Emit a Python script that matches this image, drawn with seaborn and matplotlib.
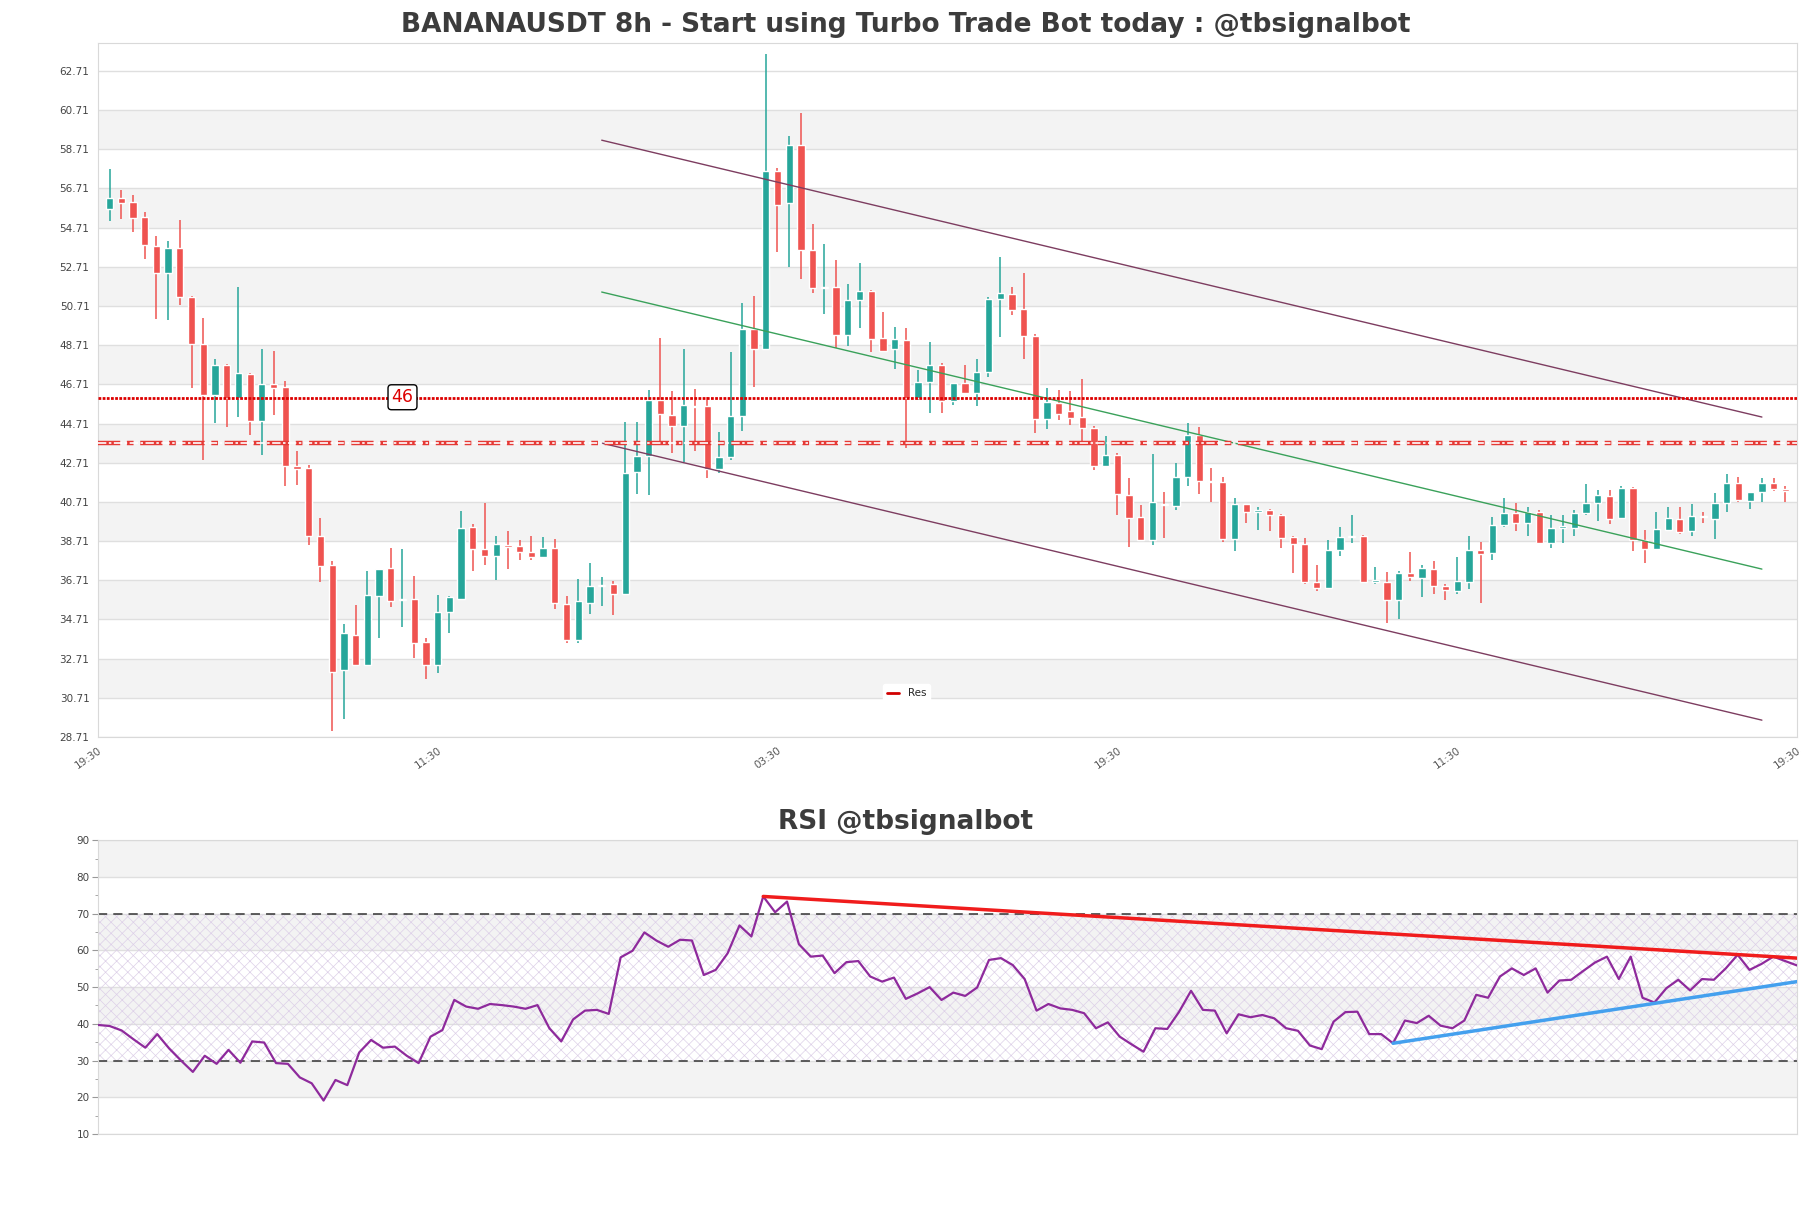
import numpy as np
import pandas as pd
import seaborn as sns
import matplotlib.pyplot as plt
from matplotlib.lines import Line2D

sns.set_style("white")
plt.rcParams['font.family'] = ['DejaVu Sans']
plt.rcParams['hatch.linewidth'] = 0.5

# 8h candles
opens = [55.68, 56.20, 56.03, 55.25, 53.77, 52.40, 53.68, 51.15, 48.75, 46.18,
         47.70, 46.02, 47.25, 44.85, 46.72, 46.56, 42.53, 42.46, 38.95, 37.51,
         32.11, 33.93, 32.38, 35.91, 37.33, 35.70, 35.75, 33.56, 32.38, 35.07,
         35.76, 39.45, 38.31, 37.97, 38.49, 38.44, 38.13, 37.92, 38.36, 35.50,
         33.68, 35.57, 36.42, 36.53, 36.03, 42.23, 43.05, 45.92, 45.15, 44.58,
         45.60, 45.61, 42.37, 42.98, 45.10, 49.53, 48.52, 57.62, 55.94, 58.90,
         53.59, 51.63, 51.69, 49.25, 51.01, 51.49, 49.07, 48.50, 48.98, 46.02,
         46.81, 47.72, 45.88, 46.79, 46.29, 47.32, 51.08, 51.31, 50.55, 49.19,
         44.92, 45.77, 45.33, 45.04, 44.47, 42.53, 43.10, 41.05, 39.95, 38.77,
         40.62, 40.52, 42.00, 44.12, 41.75, 41.73, 38.83, 40.59, 40.18, 40.30,
         40.06, 38.92, 38.54, 36.60, 36.30, 38.24, 38.90, 38.99, 36.64, 36.64,
         35.69, 37.06, 36.83, 37.28, 36.44, 36.14, 36.64, 38.24, 38.08, 39.52,
         40.13, 39.61, 40.20, 38.60, 39.40, 39.38, 40.13, 40.63, 41.00, 39.90,
         41.43, 38.77, 38.31, 39.29, 39.86, 39.22, 39.97, 39.86, 40.63, 41.66,
         40.77, 41.20, 41.66, 41.39]
highs = [57.69, 56.62, 56.35, 55.53, 54.27, 54.04, 55.12, 51.20, 50.10, 48.00,
         47.74, 51.69, 47.30, 48.50, 48.39, 46.86, 43.33, 42.60, 39.90, 37.67,
         34.48, 35.46, 37.17, 37.30, 38.38, 38.31, 36.94, 33.75, 35.96, 35.90,
         40.25, 39.56, 40.66, 38.99, 39.22, 38.77, 38.99, 38.93, 38.81, 35.91,
         36.78, 37.58, 36.87, 36.67, 44.81, 44.81, 46.40, 49.07, 46.36, 48.50,
         46.45, 46.06, 44.28, 48.34, 50.85, 51.24, 63.55, 57.76, 59.40, 60.54,
         54.89, 53.88, 53.06, 51.81, 52.90, 51.52, 50.40, 49.66, 49.60, 47.43,
         48.87, 47.79, 46.79, 47.72, 48.00, 51.19, 53.20, 51.69, 52.40, 49.26,
         46.52, 46.40, 46.36, 46.97, 44.58, 44.05, 43.21, 41.91, 40.54, 43.14,
         41.23, 42.69, 44.76, 44.51, 42.46, 41.96, 40.93, 40.60, 40.47, 40.36,
         40.08, 38.98, 38.88, 37.51, 38.77, 39.45, 40.02, 39.00, 37.40, 37.12,
         37.17, 38.13, 37.51, 37.69, 36.53, 37.90, 38.98, 38.65, 39.95, 40.93,
         40.63, 40.47, 40.29, 40.06, 40.06, 40.29, 41.61, 41.32, 41.32, 41.50,
         41.45, 39.29, 40.20, 40.47, 40.47, 40.59, 40.18, 41.16, 42.14, 42.00,
         41.23, 41.91, 41.91, 41.50]
lows = [55.07, 55.14, 54.50, 53.13, 50.05, 50.01, 50.78, 46.52, 42.87, 44.76,
        44.51, 45.04, 44.12, 43.10, 45.15, 41.50, 41.55, 38.49, 36.60, 29.00,
        29.64, 32.35, 32.35, 33.75, 35.35, 34.32, 32.72, 31.65, 31.97, 34.02,
        35.69, 37.17, 37.51, 36.71, 37.28, 37.74, 37.74, 37.85, 35.23, 33.52,
        33.52, 35.00, 35.41, 34.96, 36.00, 41.09, 41.05, 43.78, 43.21, 42.76,
        43.33, 41.91, 42.18, 42.87, 44.35, 46.59, 48.50, 53.47, 52.68, 52.06,
        51.38, 50.28, 48.57, 48.68, 49.60, 48.34, 48.34, 47.48, 43.44, 45.90,
        45.26, 45.26, 45.67, 46.24, 45.61, 47.09, 49.14, 50.24, 48.00, 44.24,
        44.42, 44.88, 44.65, 43.78, 42.35, 42.50, 40.02, 38.42, 38.72, 38.49,
        38.88, 40.31, 41.50, 41.09, 40.70, 38.65, 38.19, 39.63, 39.29, 39.22,
        38.38, 37.10, 36.53, 36.14, 36.28, 37.97, 38.60, 36.60, 36.53, 34.55,
        34.73, 36.67, 35.85, 36.03, 35.69, 36.03, 36.26, 35.57, 37.74, 39.45,
        39.22, 38.98, 38.54, 38.36, 38.60, 38.98, 40.06, 39.75, 39.56, 39.86,
        38.19, 37.58, 38.26, 39.29, 39.06, 38.99, 39.63, 38.83, 40.18, 40.70,
        40.36, 40.70, 41.27, 40.70]
closes = [56.20, 55.96, 55.18, 53.81, 52.40, 53.68, 51.15, 48.75, 46.18, 47.70,
          46.02, 47.29, 44.85, 46.72, 46.54, 42.53, 42.41, 38.95, 37.44, 32.04,
          34.02, 32.38, 35.96, 37.28, 35.64, 35.76, 33.52, 32.38, 35.07, 35.85,
          39.40, 38.31, 37.97, 38.54, 38.43, 38.13, 37.92, 38.36, 35.53, 33.68,
          35.64, 36.44, 36.48, 36.03, 42.18, 43.05, 45.92, 45.19, 44.58, 45.65,
          45.55, 42.37, 42.98, 45.10, 49.55, 48.52, 57.62, 55.87, 58.90, 53.54,
          51.65, 51.68, 49.25, 51.03, 51.49, 49.03, 48.41, 49.03, 46.02, 46.81,
          47.70, 45.88, 46.79, 46.29, 47.32, 51.08, 51.38, 50.51, 49.19, 44.92,
          45.79, 45.19, 44.97, 44.47, 42.53, 43.10, 41.09, 39.90, 38.77, 40.70,
          40.55, 42.00, 44.12, 41.77, 41.70, 38.83, 40.59, 40.18, 40.32, 40.06,
          38.88, 38.58, 36.60, 36.30, 38.24, 38.92, 38.98, 36.64, 36.68, 35.69,
          37.06, 36.87, 37.33, 36.44, 36.21, 36.67, 38.24, 38.04, 39.52, 40.13,
          39.63, 40.18, 38.60, 39.38, 39.45, 40.13, 40.63, 41.04, 39.84, 41.43,
          38.77, 38.31, 39.34, 39.90, 39.15, 39.97, 39.92, 40.66, 41.66, 40.82,
          41.20, 41.66, 41.39, 41.27]

rsi = [39.7, 39.4, 38.2, 35.8, 33.5, 37.2, 33.3, 30.0, 26.9, 31.3,
       29.1, 32.9, 29.4, 35.2, 34.9, 29.3, 29.1, 25.4, 23.8, 19.1,
       24.7, 23.3, 32.2, 35.6, 33.5, 33.8, 31.3, 29.3, 36.5, 38.3,
       46.5, 44.7, 44.1, 45.4, 45.1, 44.7, 44.1, 45.1, 38.8, 35.2,
       41.2, 43.6, 43.8, 42.7, 58.1, 59.9, 64.9, 62.7, 61.0, 62.9,
       62.7, 53.3, 54.7, 59.2, 66.8, 63.8, 74.7, 70.4, 73.3, 61.7,
       58.3, 58.6, 53.8, 56.8, 57.1, 52.9, 51.5, 52.6, 46.8, 48.3,
       50.0, 46.5, 48.5, 47.6, 49.9, 57.4, 57.9, 56.0, 52.2, 43.6,
       45.4, 44.2, 43.8, 42.9, 38.8, 40.4, 36.5, 34.4, 32.4, 38.8,
       38.6, 43.3, 49.0, 43.8, 43.6, 37.4, 42.6, 41.8, 42.4, 41.5,
       38.8, 38.1, 34.1, 33.1, 40.6, 43.2, 43.3, 37.2, 37.2, 34.7,
       40.9, 40.2, 42.2, 39.5, 38.8, 40.9, 47.9, 47.1, 52.9, 55.1,
       53.3, 55.1, 48.5, 51.8, 52.0, 54.4, 56.7, 58.3, 52.2, 58.3,
       47.1, 45.8, 49.7, 52.0, 49.1, 52.2, 52.0, 55.1, 58.8, 54.7,
       56.3, 58.3, 57.1, 55.9]

tick_labels = ['19:30', '11:30', '03:30', '19:30', '11:30', '19:30']
res_level = 46.0
sup_level = 43.71
channel_x = [42, 141]
channel_upper = [59.17, 45.04]
channel_mid = [51.42, 37.28]
channel_lower = [43.71, 29.57]
rsi_res_x, rsi_res_y = [56, 143], [74.7, 57.9]
rsi_sup_x, rsi_sup_y = [109, 143], [34.7, 51.5]

df = pd.DataFrame({'open': opens, 'high': highs, 'low': lows, 'close': closes})
df['idx'] = np.arange(len(df))
cols = np.where(df['close'] >= df['open'], '#26a69a', '#ef5350')

fig = plt.figure(figsize=(18.11, 12.08), dpi=100)

# ---- price panel
ax = fig.add_axes([0.054, 0.3899, 0.9383, 0.5745])
ax.set_xlim(-1, len(df))
ax.set_ylim(28.71, 64.13)
yt = 28.71 + 2 * np.arange(18)
for k in range(1, 16, 2):
    ax.axhspan(yt[k], yt[k + 1], color='#f3f3f3', lw=0, zorder=0)
for y in yt:
    ax.axhline(y, color='#dfdfdf', lw=1, zorder=0.5)

ax.vlines(df['idx'], df['low'], df['high'], colors=cols, lw=1.1, zorder=2)
body_lo = np.minimum(df['open'], df['close'])
body_h = np.maximum((df['close'] - df['open']).abs(), 0.07)
ax.bar(df['idx'], body_h, bottom=body_lo, width=0.62, color=cols, zorder=3)

ax.plot(channel_x, channel_upper, color='#7d3d60', lw=1, zorder=4)
ax.plot(channel_x, channel_mid, color='#3aa15a', lw=1, zorder=4)
ax.plot(channel_x, channel_lower, color='#7d3d60', lw=1, zorder=4)

ax.axhline(res_level, color='#dd0000', lw=2, ls=(0, (1, 0.5)), zorder=4)
ax.axhline(sup_level, color='#e53935', lw=3.2, ls=(0, (5, 1.5, 1.5, 1.5)), zorder=4)
ax.axhline(sup_level, color='white', lw=1.2, ls=(0, (5, 1.5, 1.5, 1.5)), zorder=4.1)
ax.text(25, res_level + 0.05, '46', color='#dd0000', fontsize=12.5, ha='center', va='center',
        bbox=dict(boxstyle='round,pad=0.2', fc='white', ec='black', lw=1), zorder=6)

ax.legend(handles=[Line2D([0], [0], color='#d00000', lw=2)], labels=['Res'],
          loc='center', bbox_to_anchor=(0.476, 0.063), fontsize=7.5, frameon=True,
          framealpha=1, edgecolor='white', handlelength=1.2)

ax.set_yticks(yt)
ax.set_yticklabels([f'{v:.2f}' for v in yt], fontsize=7.5, color='#444444')
ax.set_xticks(np.linspace(-1, len(df), 6))
ax.set_xticklabels(tick_labels, rotation=35, ha='right', rotation_mode='anchor',
                   fontsize=7.5, color='#555555')
ax.tick_params(axis='y', length=0, pad=6)
ax.tick_params(axis='x', length=3, color='#cccccc', pad=3)
for s in ax.spines.values():
    s.set_color('#d9d9d9')

# ---- RSI panel
ax2 = fig.add_axes([0.054, 0.0613, 0.9383, 0.2431])
ax2.set_xlim(0, len(rsi) - 1)
ax2.set_ylim(10, 90)
for lo in [20, 40, 60, 80]:
    ax2.axhspan(lo, lo + 10, color='#f3f3f3', lw=0, zorder=0)
for y in range(10, 91, 10):
    ax2.axhline(y, color='#dfdfdf', lw=1, zorder=0.5)
ax2.fill_between([0, len(rsi) - 1], 30, 70, facecolor='none', edgecolor='#ddd0e8',
                 hatch='xxx', lw=0, zorder=0.6)
ax2.axhline(70, color='#333333', lw=1.1, ls=(0, (6, 4)), zorder=1)
ax2.axhline(30, color='#333333', lw=1.1, ls=(0, (6, 4)), zorder=1)

sns.lineplot(x=np.arange(len(rsi)), y=rsi, ax=ax2, color='#8e2a9c', lw=1.6, zorder=3)
ax2.plot(rsi_res_x, rsi_res_y, color='#f01c1c', lw=2.5, zorder=4)
ax2.plot(rsi_sup_x, rsi_sup_y, color='#44a0ee', lw=2.5, zorder=4)

ax2.set_yticks(range(10, 91, 10))
ax2.set_yticks(range(15, 90, 10), minor=True)
ax2.set_yticklabels([str(v) for v in range(10, 91, 10)], fontsize=7.5, color='#444444')
ax2.tick_params(axis='y', which='major', length=4, color='#999999', pad=2, left=True)
ax2.tick_params(axis='y', which='minor', length=2, color='#999999', left=True)
ax2.set_xticks([])
ax2.set_xlabel('')
ax2.set_ylabel('')
for s in ax2.spines.values():
    s.set_color('#d9d9d9')

fig.text(0.5, 0.9733, 'BANANAUSDT 8h - Start using Turbo Trade Bot today : @tbsignalbot',
         ha='center', va='baseline', fontsize=19, fontweight='bold', color='#3c3c3c')
fig.text(0.5, 0.3135, 'RSI @tbsignalbot', ha='center', va='baseline',
         fontsize=19, fontweight='bold', color='#3c3c3c')

fig.savefig('out.png', dpi=100)
